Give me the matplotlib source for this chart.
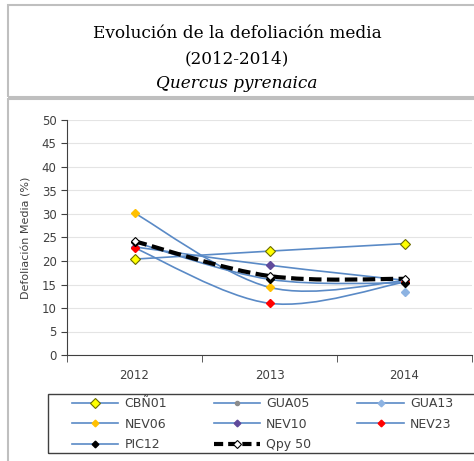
import numpy as np
import matplotlib
matplotlib.use("Agg")
import matplotlib.pyplot as plt
from matplotlib.path import Path
from matplotlib.patches import PathPatch, Rectangle
from matplotlib.lines import Line2D

# data
years = ["2012", "2013", "2014"]
cbn01 = [20.4, 22.1, 23.7]
gua05 = [None, None, 15.8]
gua13 = [None, None, 13.5]
nev06 = [30.2, 14.4, 15.8]
nev10 = [23.0, 19.1, 15.9]
nev23 = [22.8, 11.0, 15.5]
pic12 = [24.0, 16.1, 15.3]
qpy50 = [24.2, 16.8, 16.2]

series = [
    ("CBÑ01", cbn01, dict(marker="D", mfc="#ffff00", mec="#6b6b00", ms=5.5, mew=0.8)),
    ("GUA05", gua05, dict(marker="o", mfc="#8c8c8c", mec="#8c8c8c", ms=3.5)),
    ("GUA13", gua13, dict(marker="D", mfc="#8db3e2", mec="#8db3e2", ms=4)),
    ("NEV06", nev06, dict(marker="D", mfc="#ffc000", mec="#ffc000", ms=4)),
    ("NEV10", nev10, dict(marker="D", mfc="#604a9b", mec="#604a9b", ms=4)),
    ("NEV23", nev23, dict(marker="D", mfc="#ff0000", mec="#ff0000", ms=4)),
    ("PIC12", pic12, dict(marker="D", mfc="#000000", mec="#000000", ms=4)),
]

line_col = "#5a8ac6"


def smooth_path(xs, ys):
    # Excel-like smoothed line (cubic bezier through the points)
    pts = np.array([(x, y) for x, y in zip(xs, ys) if y is not None], float)
    n = len(pts)
    verts = [pts[0]]
    codes = [Path.MOVETO]
    for i in range(n - 1):
        p_prev = pts[i - 1] if i > 0 else pts[i]
        p_next = pts[i + 2] if i + 2 < n else pts[i + 1]
        c1 = pts[i] + (pts[i + 1] - p_prev) / 6
        c2 = pts[i + 1] - (p_next - pts[i]) / 6
        verts += [c1, c2, pts[i + 1]]
        codes += [Path.CURVE4] * 3
    return Path(verts, codes)


fig = plt.figure(figsize=(4.74, 4.61), dpi=100)

# title box and chart area frame
W, H = 474, 461
fig.patches.append(Rectangle((8 / W, 1 - 97 / H), 470 / W, 92 / H,
                             transform=fig.transFigure, fill=False,
                             ec="#bfbfbf", lw=1.5))
fig.patches.append(Rectangle((8 / W, -0.05), 470 / W, 1 - 99 / H + 0.05,
                             transform=fig.transFigure, fill=False,
                             ec="#bfbfbf", lw=1.5))

fig.text(0.5, 1 - 38 / H, "Evolución de la defoliación media", ha="center",
         va="baseline", family="DejaVu Serif", fontsize=12.2)
fig.text(0.5, 1 - 63 / H, "(2012-2014)", ha="center", va="baseline",
         family="DejaVu Serif", fontsize=12.2)
fig.text(0.5, 1 - 88 / H, "Quercus pyrenaica", ha="center", va="baseline",
         family="DejaVu Serif", fontsize=12.2, style="italic")

ax = fig.add_axes([67 / W, 1 - 355 / H, 405 / W, 235 / H])
x = np.arange(len(years))

for name, vals, st in series:
    if sum(v is not None for v in vals) > 1:
        ax.add_patch(PathPatch(smooth_path(x, vals), fill=False,
                               ec=line_col, lw=1.2, zorder=2))
    xv = [xi for xi, v in zip(x, vals) if v is not None]
    yv = [v for v in vals if v is not None]
    ax.plot(xv, yv, linestyle="none", zorder=4, **st)

ax.add_patch(PathPatch(smooth_path(x, qpy50), fill=False, ec="black",
                       lw=3, ls=(0, (3, 1.3)), zorder=3))
ax.plot(x, qpy50, linestyle="none", marker="D", mfc="white", mec="black",
        ms=4.5, mew=0.8, zorder=5)

ax.set_xlim(-0.5, 2.5)
ax.set_ylim(0, 50)
ax.set_yticks(range(0, 51, 5))
ax.set_xticks(x)
ax.set_xticklabels(years)
ax.set_xticks([-0.5, 0.5, 1.5, 2.5], minor=True)
ax.tick_params(axis="x", which="major", length=0, pad=10, labelsize=8.5,
               labelcolor="#404040")
ax.tick_params(axis="x", which="minor", length=5, color="#404040")
ax.tick_params(axis="y", length=4, labelsize=8.5, labelcolor="#404040",
               color="#404040")
ax.grid(axis="y", color="#e4e4e4", lw=0.8)
ax.set_axisbelow(True)
for s in ["top", "right"]:
    ax.spines[s].set_visible(False)
ax.spines["left"].set_color("#404040")
ax.spines["bottom"].set_color("#404040")
ax.set_ylabel("Defoliación Media (%)", fontsize=8, color="#404040",
              labelpad=7)

# legend box
fig.patches.append(Rectangle((48 / W, 1 - 453 / H), 440 / W, 59 / H,
                             transform=fig.transFigure, fill=False,
                             ec="#404040", lw=1.0))

# legend, filled row by row
handles = {}
for name, vals, st in series:
    h_st = dict(st)
    h_st["ms"] = st["ms"] * 0.85
    handles[name] = Line2D([], [], color=line_col, lw=1.2, **h_st)
handles["Qpy 50"] = Line2D([], [], color="black", lw=3, ls=(0, (2.2, 1.2)),
                           marker="D", mfc="white", mec="black", ms=4,
                           mew=0.8)
order = ["CBÑ01", "NEV06", "PIC12", "GUA05", "NEV10", "Qpy 50",
         "GUA13", "NEV23"]
leg = fig.legend([handles[k] for k in order], order, ncol=3,
                 loc="upper left", bbox_to_anchor=(69 / W, 1 - 394 / H),
                 frameon=False, fontsize=9, handlelength=3.7,
                 handletextpad=0.5, columnspacing=3.7, labelspacing=0.6,
                 borderpad=0.25, borderaxespad=0)
for t in leg.get_texts():
    t.set_color("#404040")

fig.savefig("out.png", dpi=100)
